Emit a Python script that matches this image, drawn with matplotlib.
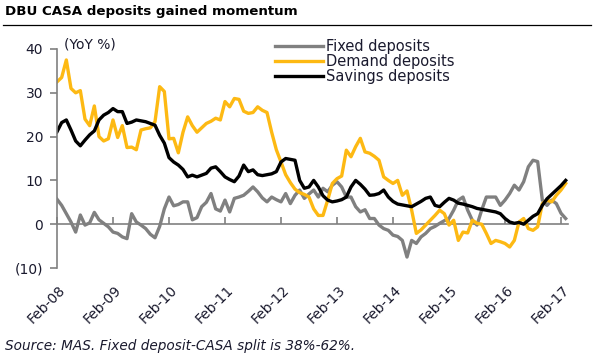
import matplotlib
matplotlib.use("Agg")
import matplotlib.pyplot as plt
import matplotlib.transforms as mtransforms
from matplotlib.lines import Line2D
from matplotlib.ticker import FuncFormatter
import numpy as np

# monthly YoY %, Feb-08 .. Mar-17
fixed = [5.7, 4.3, 2.4, 0.5, -1.8, 2.1, -0.2, 0.3, 2.7, 1.0,
         0.2, -0.6, -1.8, -2.1, -2.9, -3.3, 2.4, 0.5, -0.2, -1.0,
         -2.3, -3.1, -0.5, 3.5, 6.2, 4.2, 4.5, 5.1, 5.1, 1.0,
         1.5, 4.0, 5.0, 7.0, 3.5, 3.0, 5.5, 2.8, 5.9, 6.2,
         6.6, 7.5, 8.5, 7.4, 6.0, 5.1, 6.2, 5.6, 5.1, 7.0,
         4.7, 6.6, 7.8, 5.9, 6.9, 7.8, 6.2, 8.2, 7.4, 8.9,
         9.7, 8.5, 6.2, 6.2, 4.0, 2.8, 3.3, 1.3, 1.3, -0.2,
         -1.0, -1.4, -2.5, -2.8, -3.7, -7.5, -3.7, -4.4, -2.9, -2.1,
         -1.0, -0.5, 0.2, 0.8, 1.3, 3.2, 5.5, 6.2, 3.2, 0.9,
         -0.2, 3.2, 6.2, 6.2, 6.2, 4.3, 5.5, 7.0, 8.9, 7.8,
         9.7, 13.1, 14.6, 14.3, 5.5, 4.3, 5.5, 4.7, 2.5, 1.3]

demand = [32.5, 33.5, 37.5, 31.0, 30.0, 30.5, 24.0, 22.5, 27.0, 20.0,
          19.0, 19.5, 23.8, 19.8, 22.5, 17.5, 17.6, 17.0, 21.5, 21.8,
          22.0, 23.4, 31.4, 30.3, 19.5, 19.6, 16.3, 21.0, 24.5, 22.5,
          21.0, 22.0, 23.0, 23.5, 24.2, 23.8, 28.0, 26.8, 28.7, 28.5,
          25.8, 25.3, 25.5, 26.8, 26.0, 25.5, 21.0, 17.0, 14.2, 11.3,
          9.5, 8.0, 7.2, 6.8, 6.2, 3.5, 2.0, 2.0, 5.5, 9.3,
          10.4, 11.0, 16.9, 15.4, 17.7, 19.6, 16.5, 16.2, 15.5, 14.6,
          10.8, 10.0, 9.3, 10.0, 6.6, 7.6, 3.2, -2.1, -1.3, -0.2,
          0.9, 2.0, 3.2, 2.4, -0.2, 0.9, -3.7, -1.8, -2.0, 0.9,
          0.2, 0.0, -2.1, -4.4, -3.7, -4.0, -4.4, -5.2, -3.7, 0.5,
          1.3, -1.0, -1.4, -0.6, 4.7, 5.5, 5.1, 6.6, 7.8, 9.3]

savings = [21.1, 23.2, 23.8, 21.5, 19.0, 17.9, 19.2, 20.4, 21.3, 23.8,
           24.9, 25.5, 26.4, 25.7, 25.7, 23.0, 23.3, 23.8, 23.6, 23.4,
           23.0, 22.6, 20.3, 18.5, 15.2, 14.2, 13.5, 12.5, 10.8, 11.2,
           10.8, 11.2, 11.6, 12.8, 13.1, 12.0, 10.8, 10.2, 9.7, 11.0,
           13.5, 12.0, 12.4, 11.3, 11.1, 11.3, 11.5, 12.0, 14.2, 15.0,
           14.8, 14.6, 10.0, 8.2, 8.5, 10.0, 8.5, 6.5, 5.5, 5.1,
           5.3, 5.6, 6.2, 8.5, 10.0, 9.1, 8.0, 6.6, 6.7, 7.0,
           7.8, 6.2, 5.2, 4.6, 4.4, 4.2, 4.0, 4.6, 5.2, 5.9,
           6.2, 4.3, 4.0, 5.0, 5.9, 5.5, 4.8, 4.6, 4.3, 4.0,
           3.6, 3.4, 3.2, 3.0, 2.8, 2.4, 1.3, 0.5, 0.2, 0.4,
           0.0, 0.9, 1.8, 2.4, 4.3, 5.8, 6.8, 7.8, 8.8, 10.0]

year_labels = ["Feb-08", "Feb-09", "Feb-10", "Feb-11", "Feb-12",
               "Feb-13", "Feb-14", "Feb-15", "Feb-16", "Feb-17"]

x = np.arange(len(savings))
grey = "#808080"
gold = "#FDB913"
txt = "#1a1a2e"

fig = plt.figure(figsize=(6, 3.6), dpi=100)
ax = fig.add_axes([57/600, 1-268/360, 511/600, 219/360])

ax.plot(x, fixed, color=grey, lw=2.4, label="Fixed deposits", solid_joinstyle="round")
ax.plot(x, demand, color=gold, lw=2.4, label="Demand deposits", solid_joinstyle="round")
ax.plot(x, savings, color="black", lw=2.4, label="Savings deposits", solid_joinstyle="round")

ax.set_xlim(0, 109.5)
ax.set_ylim(-10, 40)
ax.set_yticks([-10, 0, 10, 20, 30, 40])
ax.yaxis.set_major_formatter(FuncFormatter(lambda v, p: f"({abs(int(v))})" if v < 0 else f"{int(v)}"))
ax.tick_params(axis="y", direction="out", length=5, width=1.2, color=grey,
               labelsize=10, labelcolor=txt, pad=5)

for s in ["top", "right"]:
    ax.spines[s].set_visible(False)
ax.spines["left"].set_color(grey)
ax.spines["left"].set_linewidth(1.2)
ax.spines["bottom"].set_position(("data", 0))
ax.spines["bottom"].set_color(grey)
ax.spines["bottom"].set_linewidth(1.2)
ax.spines["bottom"].set_zorder(0)

ticks = np.arange(0, 109, 12)
ax.set_xticks(ticks)
ax.tick_params(axis="x", direction="in", length=5, width=1.2, color=grey, labelbottom=False)

sec = ax.secondary_xaxis(0)
sec.set_xticks(ticks)
sec.set_xticklabels(year_labels)
sec.spines["bottom"].set_visible(False)
sec.tick_params(axis="x", length=0, pad=11, labelsize=10, labelcolor=txt)
offset = mtransforms.ScaledTranslation(1/100, 0, fig.dpi_scale_trans)
for lab in sec.get_xticklabels():
    lab.set_rotation(45)
    lab.set_ha("right")
    lab.set_rotation_mode("anchor")
    lab.set_transform(lab.get_transform() + offset)

leg = ax.legend(loc="upper left", bbox_to_anchor=(275/600, 1-39/360),
                bbox_transform=fig.transFigure, frameon=False, fontsize=10.5,
                handlelength=3.3, handletextpad=0.2, labelspacing=0.0,
                borderpad=0, borderaxespad=0)
for t in leg.get_texts():
    t.set_color(txt)

fig.text(64/600, 1-44/360, "(YoY %)", fontsize=10, color=txt, va="center", ha="left")
fig.text(5/600, 1-12/360, "DBU CASA deposits gained momentum", fontsize=9.6,
         weight="bold", color="black", va="center", ha="left")
fig.add_artist(Line2D([3/600, 591/600], [1-25/360, 1-25/360], color="black", lw=0.9))
fig.text(5/600, 1-346/360, "Source: MAS. Fixed deposit-CASA split is 38%-62%.",
         fontsize=9.8, style="italic", color=txt, va="center", ha="left")

fig.savefig("out.png", dpi=100)
